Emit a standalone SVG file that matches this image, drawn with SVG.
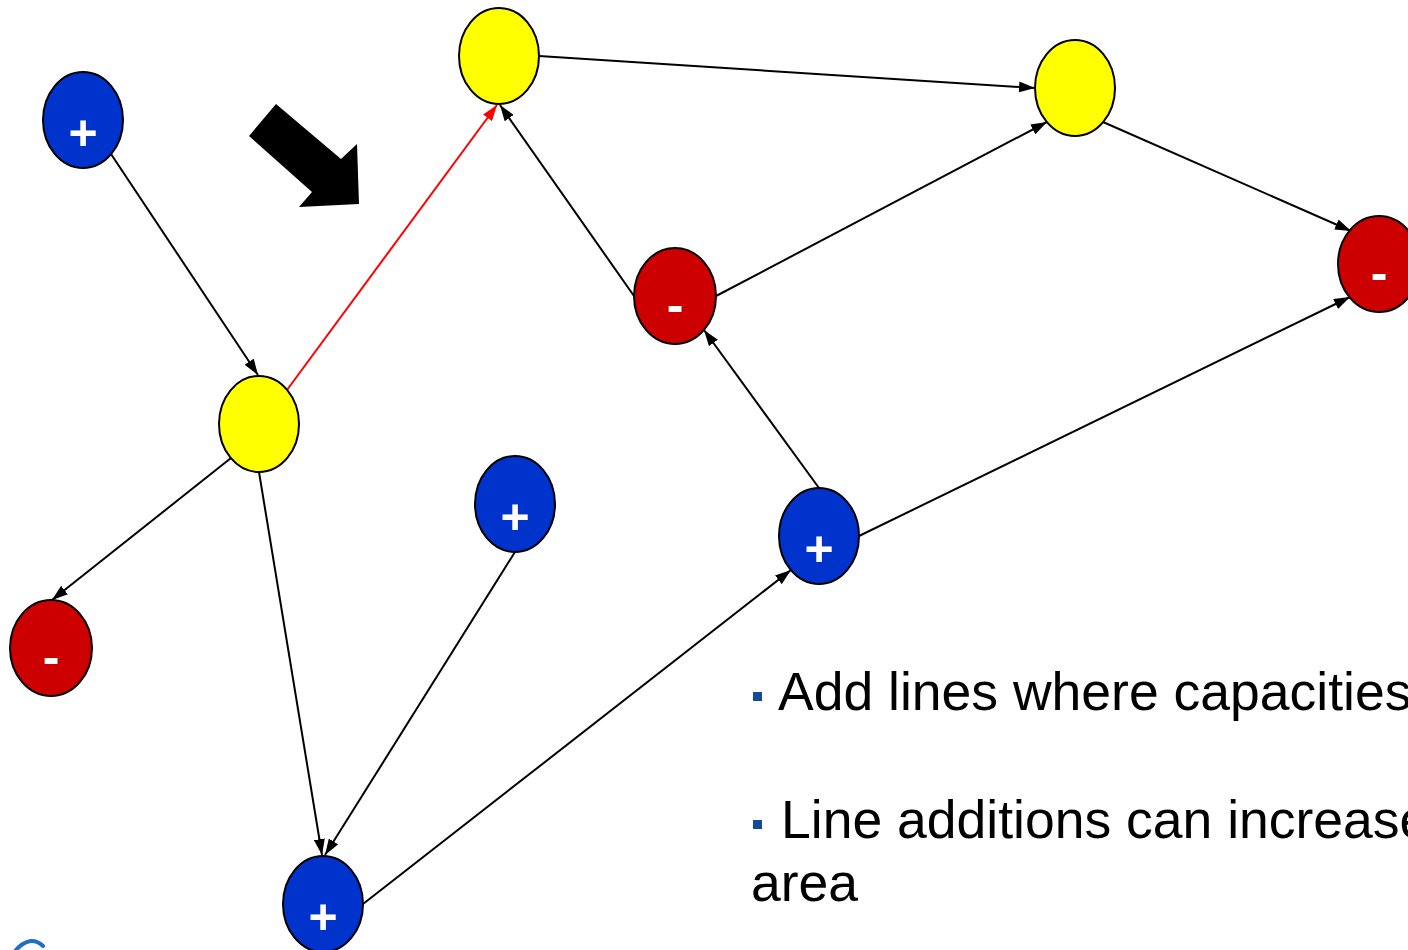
<svg xmlns="http://www.w3.org/2000/svg" width="1408" height="950" viewBox="0 0 1408 950">
  <defs>
    <marker id="ah" viewBox="0 0 16 11" refX="16" refY="5.5" markerWidth="16" markerHeight="11" markerUnits="userSpaceOnUse" orient="auto">
      <path d="M0,0 L16,5.5 L0,11 z" fill="#000"/>
    </marker>
    <marker id="ahRed" viewBox="0 0 16 11" refX="16" refY="5.5" markerWidth="16" markerHeight="11" markerUnits="userSpaceOnUse" orient="auto">
      <path d="M0,0 L16,5.5 L0,11 z" fill="#ff0000"/>
    </marker>
    <style>
      .node { stroke: #000; stroke-width: 2; }
      .pos { fill: #0033cc; }
      .neg { fill: #cc0000; }
      .mid { fill: #ffff00; }
      .sign { fill: #fff; font-family: "Liberation Sans", Arial, sans-serif; font-weight: bold; font-size: 50px; text-anchor: middle; }
      .edge { stroke: #000; stroke-width: 2; fill: none; marker-end: url(#ah); }
      .edge.hot { stroke: #ff0000; marker-end: url(#ahRed); }
      .bullet-text { font-family: "Liberation Sans", Arial, sans-serif; font-size: 53.5px; fill: #000; }
      .bullet { fill: #134c94; }
    </style>
  </defs>

  <rect width="1408" height="950" fill="#fff"/>

  <!-- connectors -->
  <g id="connectors">
    <line class="edge" x1="111" y1="154" x2="258" y2="375"/>
    <line class="edge hot" x1="287" y1="390" x2="497" y2="105"/>
    <line class="edge" x1="231" y1="458" x2="52" y2="600"/>
    <line class="edge" x1="259" y1="472" x2="322" y2="855"/>
    <line class="edge" x1="515" y1="552" x2="325" y2="855"/>
    <line class="edge" x1="363" y1="904" x2="791" y2="570"/>
    <line class="edge" x1="819" y1="488" x2="704" y2="330"/>
    <line class="edge" x1="859" y1="536" x2="1350" y2="297"/>
    <line class="edge" x1="634" y1="296" x2="500" y2="105"/>
    <line class="edge" x1="716" y1="296" x2="1047" y2="122"/>
    <line class="edge" x1="539" y1="56" x2="1035" y2="88"/>
    <line class="edge" x1="1103" y1="122" x2="1351" y2="231"/>
  </g>

  <!-- nodes -->
  <g id="n-b1"><ellipse class="node pos" cx="83" cy="120" rx="40" ry="48"/><text class="sign" x="83" y="150">+</text></g>
  <g id="n-y1"><ellipse class="node mid" cx="259" cy="424" rx="40" ry="48"/></g>
  <g id="n-y2"><ellipse class="node mid" cx="499" cy="56" rx="40" ry="48"/></g>
  <g id="n-y3"><ellipse class="node mid" cx="1075" cy="88" rx="40" ry="48"/></g>
  <g id="n-r1"><ellipse class="node neg" cx="675" cy="296" rx="41" ry="48"/><text class="sign" x="675" y="322">-</text></g>
  <g id="n-r2"><ellipse class="node neg" cx="1379" cy="264" rx="41" ry="48"/><text class="sign" x="1379" y="290">-</text></g>
  <g id="n-r3"><ellipse class="node neg" cx="51" cy="648" rx="41" ry="48"/><text class="sign" x="51" y="674">-</text></g>
  <g id="n-b2"><ellipse class="node pos" cx="515" cy="504" rx="40" ry="48"/><text class="sign" x="515" y="534">+</text></g>
  <g id="n-b3"><ellipse class="node pos" cx="819" cy="536" rx="40" ry="48"/><text class="sign" x="819" y="566">+</text></g>
  <g id="n-b4"><ellipse class="node pos" cx="323" cy="904" rx="40" ry="48"/><text class="sign" x="323" y="934">+</text></g>

  <!-- heavy pointer arrow -->
  <polygon id="pointer" points="276,104 249,136 312,192 299,207 359,204 357,144 341,159" fill="#000"/>

  <!-- bullet list -->
  <g id="notes">
    <rect class="bullet" x="753" y="692" width="9" height="9"/>
    <text class="bullet-text" x="778" y="710">Add lines where capacities</text>
    <rect class="bullet" x="753" y="820" width="9" height="9"/>
    <text class="bullet-text" x="781" y="838">Line additions can increase</text>
    <text class="bullet-text" x="751" y="901">area</text>
  </g>

  <!-- logo fragment at the lower edge -->
  <path d="M15,951 Q30,934 43,946" fill="none" stroke="#1f6fc5" stroke-width="4" stroke-linecap="round"/>
</svg>
